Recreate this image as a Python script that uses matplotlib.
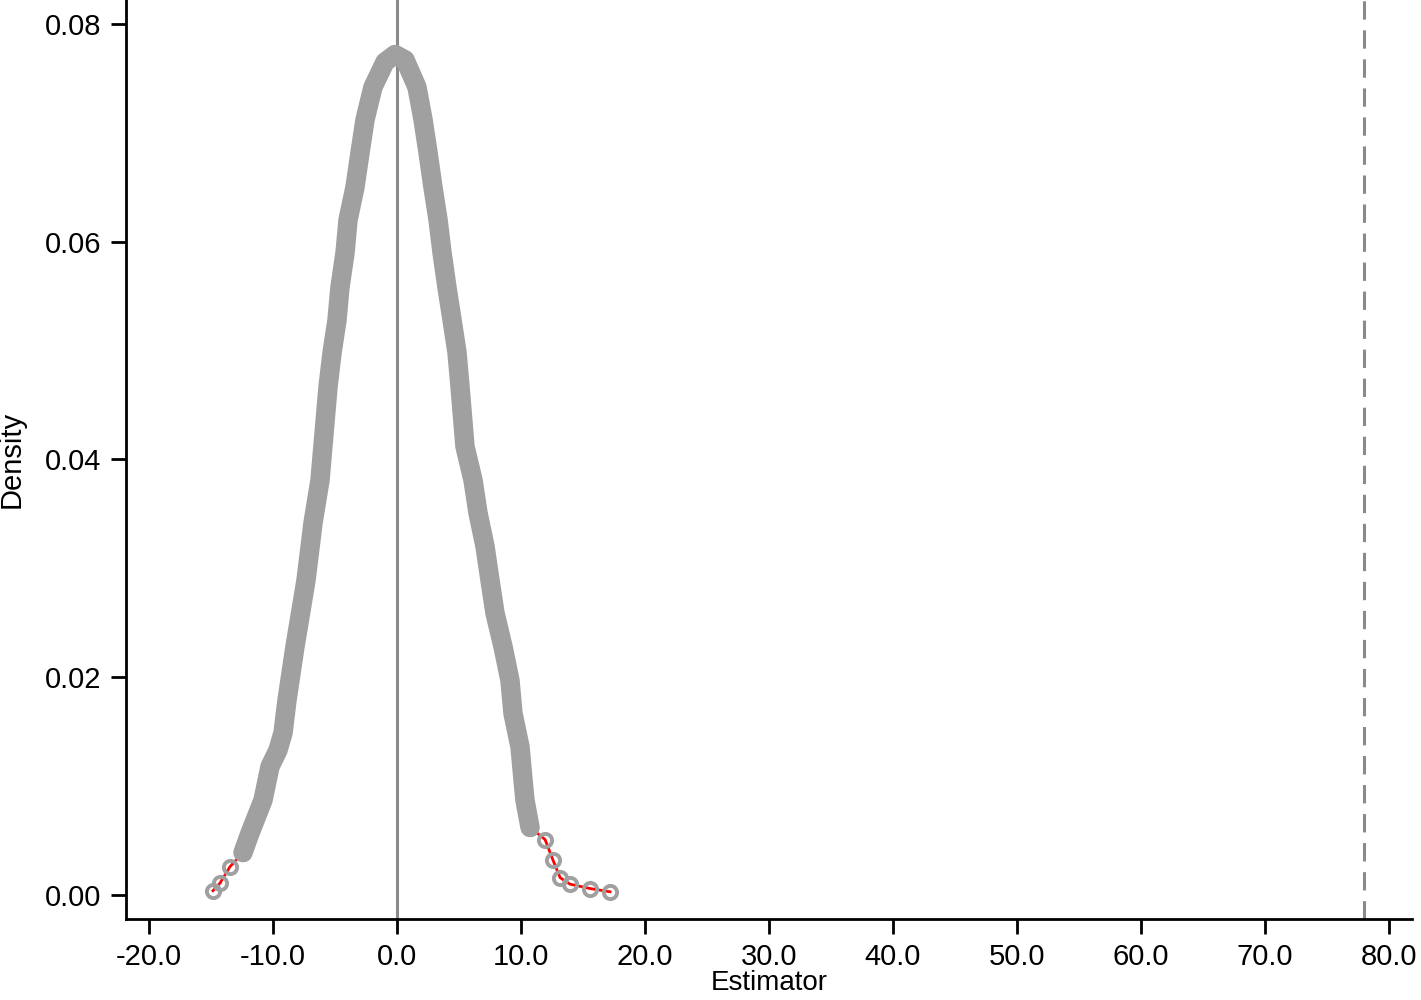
import numpy as np
import matplotlib
matplotlib.use("Agg")
import matplotlib.pyplot as plt

plt.rcParams['font.family'] = ['Liberation Sans', 'DejaVu Sans']

# density curve of the estimator
est_x = [-14.84, -14.27, -13.47, -12.42, -11.85, -10.81, -10.24, -9.60, -9.19, -8.87,
         -8.23, -7.34, -6.77, -6.21, -5.56, -5.24, -4.84, -4.60, -4.19, -3.95,
         -3.39, -2.98, -2.58, -1.94, -0.97, -0.16, 0.65, 1.61, 2.10, 2.50,
         2.90, 3.31, 3.63, 4.03, 4.44, 4.84, 5.08, 5.48, 6.13, 6.53,
         7.10, 7.50, 7.90, 8.55, 9.11, 9.35, 9.92, 10.16, 10.32, 10.73,
         11.94, 12.58, 13.15, 13.95, 15.56, 17.18]
dens = [0.0004, 0.0011, 0.0026, 0.0039, 0.0057, 0.0087, 0.0118, 0.0133, 0.0149, 0.0179,
        0.0228, 0.0289, 0.0342, 0.0381, 0.0467, 0.0498, 0.0528, 0.0558, 0.0590, 0.0620,
        0.0650, 0.0682, 0.0712, 0.0742, 0.0765, 0.0772, 0.0767, 0.0742, 0.0712, 0.0682,
        0.0650, 0.0620, 0.0590, 0.0558, 0.0528, 0.0498, 0.0467, 0.0412, 0.0381, 0.0351,
        0.0320, 0.0289, 0.0259, 0.0228, 0.0197, 0.0167, 0.0136, 0.0106, 0.0087, 0.0062,
        0.0051, 0.0032, 0.0016, 0.0010, 0.0006, 0.0003]
true_value = 78.0
xticks = [-20, -10, 0, 10, 20, 30, 40, 50, 60, 70, 80]
yticks = [0.0, 0.02, 0.04, 0.06, 0.08]

ex = np.array(est_x)
dy = np.array(dens)
body = (ex > -12.5) & (ex < 11.0)
tail = (ex < -11.0) | (ex > 10.5)

fig = plt.figure(figsize=(14.21, 10), dpi=100)
ax = fig.add_axes([0.0887, 0.081, 0.905, 0.919])

gray = '#a0a0a0'
ax.plot(ex, dy, color='red', lw=2.0, zorder=2)
ax.plot(ex[body], dy[body], color=gray, lw=14, solid_capstyle='round',
        solid_joinstyle='round', zorder=3)
ax.plot(ex[tail], dy[tail], 'o', mfc='none', mec=gray, ms=9.5, mew=2.8, zorder=4)

ax.axvline(0, color='#8a8a8a', lw=2.2, zorder=1)
ax.axvline(true_value, color='#8a8a8a', lw=2.2, ls=(0, (6, 3.5)), zorder=1)

ax.set_xlim(-21.85, 81.85)
ax.set_ylim(-0.0022, 0.0822)
ax.set_xticks(xticks)
ax.set_xticklabels(['%.1f' % t for t in xticks])
ax.set_yticks(yticks)
ax.set_yticklabels(['%.2f' % t for t in yticks])

for s in ['top', 'right']:
    ax.spines[s].set_visible(False)
for s in ['left', 'bottom']:
    ax.spines[s].set_linewidth(2.0)
ax.tick_params(axis='both', labelsize=21, width=2.0, length=10.5)
ax.tick_params(axis='x', pad=7)
ax.tick_params(axis='y', pad=7)

ax.set_xlabel('Estimator', fontsize=20, labelpad=-1)
ax.set_ylabel('Density', fontsize=21, labelpad=14)

fig.savefig('out.png', dpi=100)
